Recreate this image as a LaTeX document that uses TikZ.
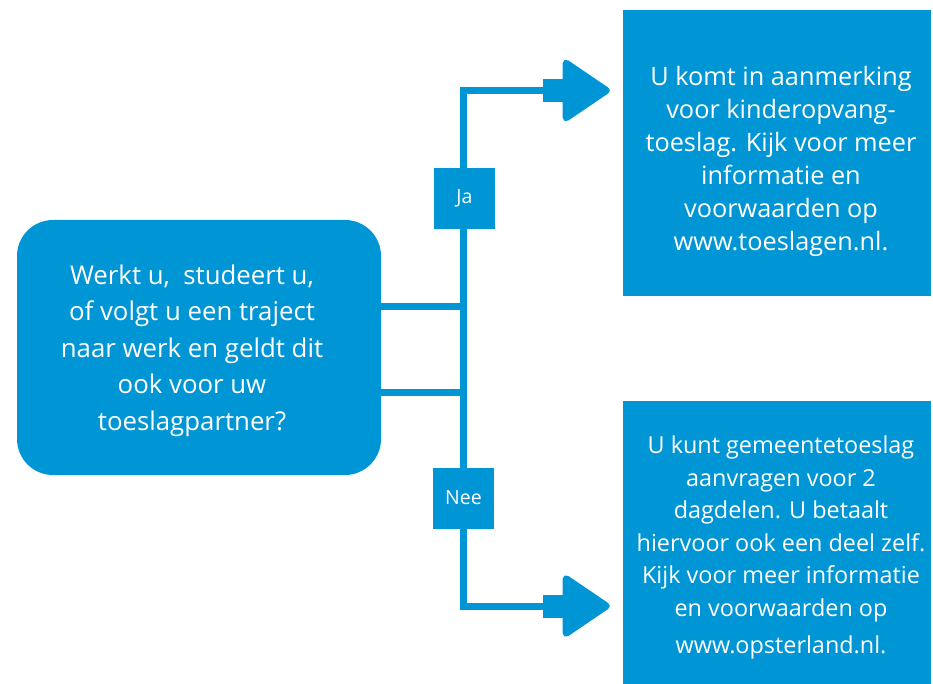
\documentclass[tikz,border=0pt]{standalone}
\usepackage{fontspec}
\setmainfont{Open Sans}
\usetikzlibrary{arrows.meta}
\definecolor{flowblue}{RGB}{0,150,214}
\tikzset{
  boxfill/.style={fill=flowblue, inner sep=0pt},
  qbox/.style={boxfill, rounded corners=36pt, minimum width=364pt, minimum height=255pt},
  rbox/.style={boxfill, minimum width=308pt},
  boxtext/.style={text=white, align=center, inner sep=0pt},
  lbl/.style={fill=flowblue, minimum width=61pt, minimum height=61pt, inner sep=0pt,
    text=white, font=\fontsize{19.5}{21}\selectfont},
  conn/.style={draw=flowblue, line width=7pt},
  tiparrow/.style={conn, -{Triangle[length=50pt,width=66pt,round]}, shorten >=13pt},
  stub/.style={draw=flowblue, line width=23pt},
}
\begin{document}
\begin{tikzpicture}[x=1pt,y=-1pt]
\useasboundingbox (0,0) rectangle (933,684);
\node[qbox] (q) at (199,347.5) {};
\node[boxtext, font=\fontsize{25.8}{36.5}\selectfont] (qt) at ([xshift=-7pt,yshift=-3pt]q.center) {Werkt u,\ \ studeert u,\\of volgt u een traject\\naar werk en geldt dit\\ook voor uw\\toeslagpartner?};
\node[rbox, minimum height=286pt] (yes) at (777,153) {};
\node[boxtext, font=\fontsize{25.3}{33}\selectfont] (yest) at ([xshift=4pt,yshift=-8pt]yes.center) {U komt in aanmerking\\voor kinderopvang-\\toeslag. Kijk voor meer\\informatie en\\voorwaarden op\\www.toeslagen.nl.};
\node[rbox, minimum height=284pt] (no) at (777,543) {};
\node[boxtext, font=\fontsize{23.4}{32.5}\selectfont] (not) at ([xshift=4pt,yshift=-4.5pt]no.center) {U kunt gemeentetoeslag\\aanvragen voor 2\\dagdelen. U betaalt\\hiervoor ook een deel zelf.\\Kijk voor meer informatie\\en voorwaarden op\\[5pt]www.opsterland.nl.};
\coordinate (ybend) at (463.5,90.5);
\coordinate (nbend) at (463.5,606);
\coordinate (ystub) at (543,90.5);
\coordinate (nstub) at (543,606);
\draw[tiparrow] ([yshift=-44.5pt]q.east) -| (ybend) -- (yes.west |- ybend);
\draw[tiparrow] ([yshift=41.5pt]q.east) -| (nbend) -- (no.west |- nbend);
\draw[stub] (ystub) -- ++(24,0);
\draw[stub] (nstub) -- ++(24,0);
\node[lbl] (ja) at (464.5,198.5) {Ja};
\node[lbl] (nee) at (463.5,498) {Nee};
\end{tikzpicture}
\end{document}
